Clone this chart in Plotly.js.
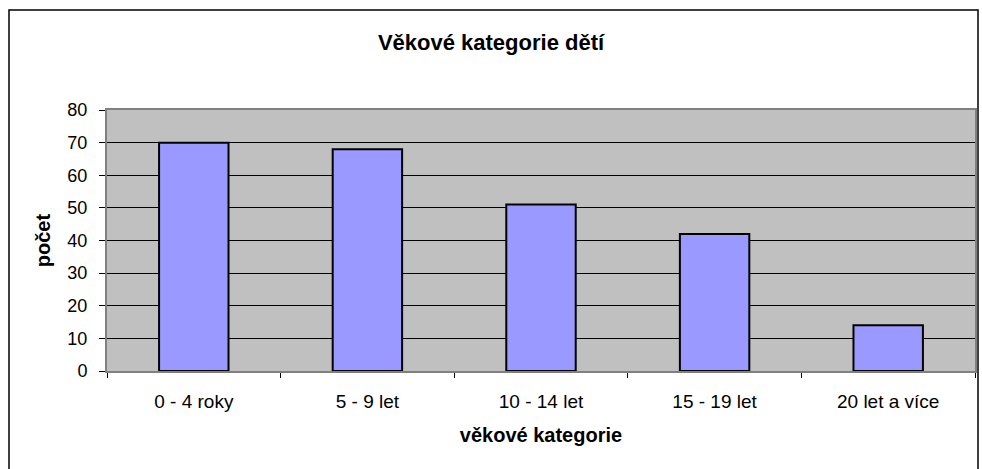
<!DOCTYPE html>
<html>
<head>
<meta charset="utf-8">
<script src="https://cdn.plot.ly/plotly-3.0.1.min.js"></script>
<style>html,body{margin:0;padding:0;background:#fff;}#chart{width:982px;height:469px;}</style>
</head>
<body>
<div id="chart"></div>
<script>
const categories = ["0 - 4 roky", "5 - 9 let", "10 - 14 let", "15 - 19 let", "20 let a více"];
const counts = [70, 68, 51, 42, 14];
const yTicks = [0, 10, 20, 30, 40, 50, 60, 70, 80];

const font = "Liberation Sans, Arial, sans-serif";

const data = [{
  type: "bar",
  x: categories,
  y: counts,
  marker: {color: "#9999FF", line: {color: "#000000", width: 2}},
  hoverinfo: "x+y"
}];

const layout = {
  width: 982, height: 469,
  margin: {l: 107, r: 7, t: 110, b: 98},
  paper_bgcolor: "#ffffff",
  plot_bgcolor: "#C0C0C0",
  bargap: 0.6,
  showlegend: false,
  font: {family: font, color: "#000000", size: 18},
  title: {text: "Věkové kategorie dětí", font: {family: font, size: 22, weight: "bold", color: "#000"}, x: 0.5, xanchor: "center", y: 1 - 42/469, yanchor: "middle"},
  xaxis: {
    type: "category",
    title: {text: "věkové kategorie", font: {family: font, size: 20, weight: "bold"}, standoff: 17},
    tickfont: {family: font, size: 19},
    ticks: "outside", ticklen: 5, tickcolor: "#000", tickwidth: 1,
    tickson: "boundaries",
    ticklabelstandoff: 12,
    showline: true, linecolor: "#808080", linewidth: 2, mirror: true,
    showgrid: false, zeroline: false, fixedrange: true
  },
  yaxis: {
    range: [0, 80],
    tickvals: yTicks,
    title: {text: "počet", font: {family: font, size: 20, weight: "bold"}, standoff: 11},
    tickfont: {family: font, size: 18},
    ticks: "outside", ticklen: 6, tickcolor: "#000", tickwidth: 1,
    ticklabelstandoff: 8,
    showline: true, linecolor: "#808080", linewidth: 2, mirror: true,
    showgrid: true, gridcolor: "#000000", gridwidth: 1,
    zeroline: false, fixedrange: true
  },
  shapes: [{
    type: "rect", xref: "paper", yref: "paper",
    x0: -98/868, x1: 1 + 3/868, y0: -98/261 - 0.05, y1: 1 + 100/261,
    line: {color: "#000000", width: 1.5}, fillcolor: "rgba(0,0,0,0)", layer: "below"
  }]
};

Plotly.newPlot("chart", data, layout, {displayModeBar: false, staticPlot: true});
</script>
</body>
</html>
